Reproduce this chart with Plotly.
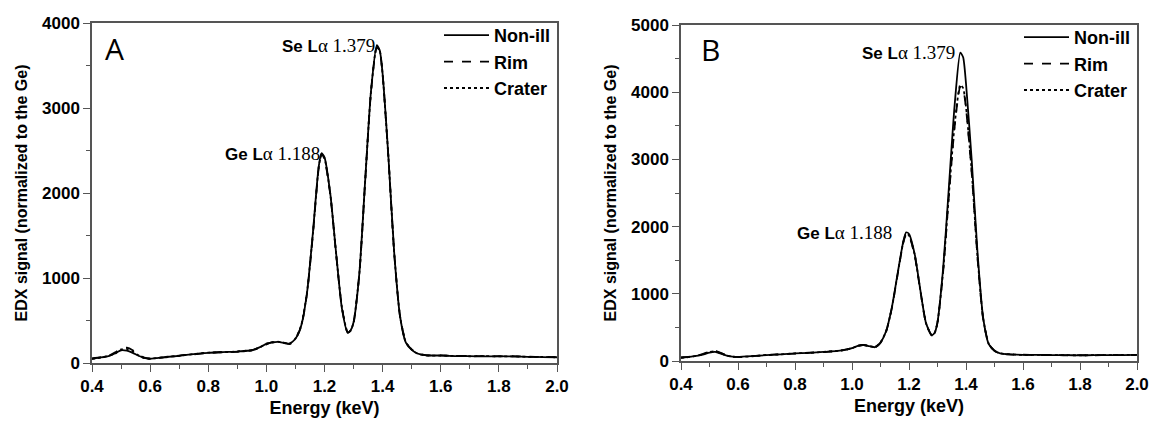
import plotly.graph_objects as go

# energy grid (keV), shared by both panels
energy = [0.40, 0.43, 0.46, 0.48, 0.50, 0.52, 0.54, 0.56, 0.58, 0.60,
          0.65, 0.70, 0.75, 0.80, 0.85, 0.90, 0.95, 0.98, 1.00, 1.02,
          1.04, 1.06, 1.08, 1.10, 1.12, 1.14, 1.16, 1.18, 1.19, 1.20,
          1.22, 1.24, 1.26, 1.28, 1.29, 1.30, 1.32, 1.34, 1.36, 1.38,
          1.39, 1.40, 1.42, 1.44, 1.46, 1.48, 1.50, 1.52, 1.55, 1.60,
          1.65, 1.70, 1.75, 1.80, 1.85, 1.90, 1.95, 2.00]

series_names = ["Non-ill", "Rim", "Crater"]

# panel A
a_nonill = [50, 65, 85, 115, 150, 145, 120, 85, 60, 50, 68, 85, 105, 120, 128, 135, 150, 190, 225, 242,
            248, 238, 228, 285, 440, 830, 1530, 2310, 2470, 2420, 1990, 1290, 640, 355, 385, 480, 1060, 2150, 3200, 3740,
            3680, 3400, 2420, 1290, 550, 240, 155, 112, 90, 88, 82, 80, 78, 80, 76, 72, 70, 66]
a_rim = [55, 70, 90, 125, 170, 180, 150, 95, 62, 52, 66, 88, 102, 118, 130, 132, 148, 185, 220, 245,
         250, 240, 222, 280, 430, 820, 1510, 2290, 2455, 2400, 1980, 1280, 650, 360, 380, 470, 1050, 2140, 3190, 3715,
         3670, 3390, 2410, 1285, 545, 245, 160, 115, 92, 90, 85, 82, 80, 78, 80, 74, 72, 68]
a_crater = [48, 62, 88, 110, 160, 165, 135, 90, 58, 50, 70, 84, 106, 122, 126, 137, 152, 188, 228, 240,
            252, 236, 230, 288, 445, 835, 1520, 2300, 2460, 2410, 1985, 1285, 655, 358, 383, 475, 1055, 2145, 3195, 3725,
            3675, 3395, 2415, 1288, 548, 242, 158, 110, 88, 86, 84, 79, 81, 77, 78, 73, 71, 67]

# panel B
b_nonill = [50, 62, 80, 100, 125, 135, 110, 80, 65, 60, 72, 88, 100, 112, 122, 135, 150, 170, 190, 225,
            238, 222, 205, 275, 450, 800, 1300, 1780, 1915, 1890, 1590, 1050, 560, 385, 420, 580, 1390, 2590, 3800, 4590,
            4520, 4130, 2990, 1640, 650, 250, 150, 115, 100, 92, 90, 88, 86, 85, 86, 88, 88, 90]
b_rim = [52, 64, 84, 110, 140, 150, 120, 84, 66, 58, 74, 86, 102, 110, 125, 132, 148, 172, 188, 228,
         240, 225, 200, 270, 440, 790, 1285, 1760, 1880, 1860, 1570, 1040, 555, 380, 415, 570, 1340, 2460, 3480, 4080,
         4040, 3760, 2800, 1560, 630, 255, 155, 112, 98, 94, 88, 90, 84, 87, 84, 90, 86, 92]
b_crater = [48, 60, 82, 105, 132, 145, 115, 82, 63, 60, 70, 90, 98, 114, 120, 136, 152, 168, 192, 222,
            236, 220, 208, 278, 445, 795, 1290, 1770, 1895, 1870, 1580, 1045, 558, 383, 418, 575, 1350, 2480, 3510, 4110,
            4060, 3780, 2820, 1570, 640, 252, 152, 114, 102, 90, 92, 86, 88, 84, 88, 86, 90, 89]

peak_labels = ["Ge L", "Se L"]
peak_energies = ["1.188", "1.379"]

W, H = 1150, 421
SANS = "Liberation Sans, Arial, sans-serif"
SERIF = "Liberation Serif, Times New Roman, serif"
dashes = ["solid", "dash", "dot"]

fig = go.Figure()

panels = [
    ("x", "y", "legend", [a_nonill, a_rim, a_crater]),
    ("x2", "y2", "legend2", [b_nonill, b_rim, b_crater]),
]
for xa, ya, lg, data in panels:
    for name, vals, dash in zip(series_names, data, dashes):
        fig.add_trace(go.Scatter(
            x=energy, y=vals, name=name, mode="lines",
            line=dict(color="black", width=1.8, dash=dash, shape="spline", smoothing=0.6),
            xaxis=xa, yaxis=ya, legend=lg))


def px_x(p):
    return p / W


def px_y(p):
    return 1 - p / H


axis_common = dict(
    showline=True, linecolor="#555", linewidth=1.5, mirror=True,
    ticks="outside", ticklen=7, tickwidth=1.3, tickcolor="#555",
    showgrid=False, zeroline=False, automargin=False,
    tickfont=dict(family=SANS, size=17, color="black", weight="bold"),
)
xtitle = dict(text="Energy (keV)", standoff=6,
              font=dict(family=SANS, size=18, color="black", weight="bold"))
ytitle = dict(text="EDX signal (normalized to the Ge)", standoff=10,
              font=dict(family=SANS, size=16, color="black", weight="bold"))
xminor = dict(dtick=0.1, ticklen=4, ticks="outside", tickcolor="#555")
yminor = dict(dtick=500, ticklen=4, ticks="outside", tickcolor="#555")
legend_style = dict(xanchor="left", yanchor="top", bgcolor="rgba(0,0,0,0)", tracegroupgap=0,
                    itemwidth=45, font=dict(family=SANS, size=18, color="black", weight="bold"))

fig.update_layout(
    width=W, height=H,
    margin=dict(l=0, r=0, t=0, b=0),
    paper_bgcolor="white", plot_bgcolor="white",
    xaxis=dict(domain=[px_x(92), px_x(557)], anchor="y", range=[0.4, 2.0], dtick=0.2, tick0=0.4,
               tickformat=".1f", minor=xminor, title=xtitle, **axis_common),
    yaxis=dict(domain=[px_y(363), px_y(23)], anchor="x", range=[0, 4000], dtick=1000,
               minor=yminor, title=ytitle, **axis_common),
    xaxis2=dict(domain=[px_x(681), px_x(1137)], anchor="y2", range=[0.4, 2.0], dtick=0.2, tick0=0.4,
                tickformat=".1f", minor=xminor, title=xtitle, **axis_common),
    yaxis2=dict(domain=[px_y(361), px_y(25)], anchor="x2", range=[0, 5000], dtick=1000,
                minor=yminor, title=ytitle, **axis_common),
    legend=dict(x=px_x(439), y=px_y(17), **legend_style),
    legend2=dict(x=px_x(1019), y=px_y(19), **legend_style),
)

# peak labels anchored at the peak maxima of the Non-ill curves
for xa, ya, series, shifts in [("x", "y", a_nonill, [0, 0]), ("x2", "y2", b_nonill, [-12, -3])]:
    for i, (lab, en) in enumerate(zip(peak_labels, peak_energies)):
        lo, hi = (float(en) - 0.05, float(en) + 0.05)
        idx = [k for k, e in enumerate(energy) if lo <= e <= hi]
        k = max(idx, key=lambda j: series[j])
        fig.add_annotation(
            x=energy[k], y=series[k], xref=xa, yref=ya, xanchor="right", yanchor="middle",
            xshift=shifts[i], showarrow=False,
            text=f"<b>{lab}</b><span style='font-family:{SERIF};font-size:19px'>α {en}</span>",
            font=dict(family=SANS, size=17, color="black"))

# panel letters
for letter, xp, yp in [("A", 103, 48), ("B", 699, 50)]:
    fig.add_annotation(x=px_x(xp), y=px_y(yp), xref="paper", yref="paper", xanchor="left",
                       yanchor="middle", showarrow=False, text=letter,
                       font=dict(family="Open Sans, sans-serif", size=30, color="black"))

fig.write_html("out.html", config={"displayModeBar": False},
               post_script="document.body.style.margin='0';")
